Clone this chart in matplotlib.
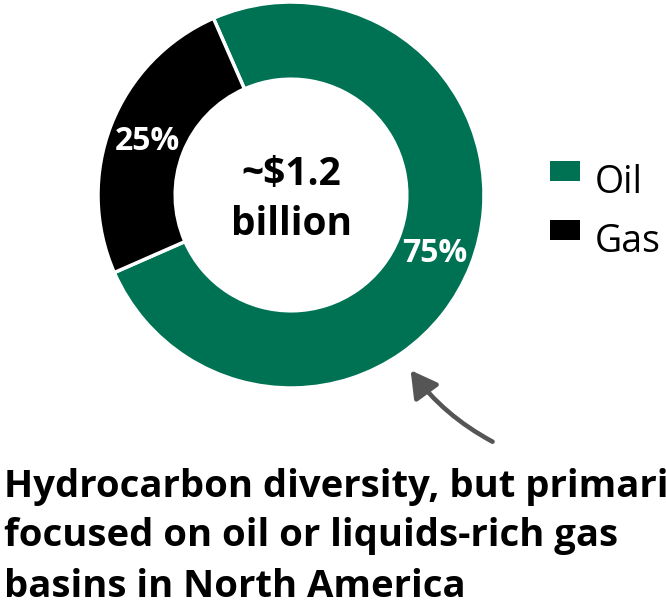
import matplotlib
matplotlib.use("Agg")
import matplotlib.pyplot as plt
from matplotlib.patches import Patch, Rectangle, FancyArrowPatch
from matplotlib.legend_handler import HandlerPatch

# revenue split by hydrocarbon type
categories = ["Oil", "Gas"]
shares = [75, 25]
colors = ["#007254", "#000000"]
center_lines = ["~\\$1.2", "billion"]
caption_lines = ["Hydrocarbon diversity, but primarily",
                 "focused on oil or liquids-rich gas",
                 "basins in North America"]

FONT = "Open Sans"
W, H = 666, 603
fig = plt.figure(figsize=(W / 100, H / 100), dpi=100)

# donut: centre (291, 195) px, radius 193 px
cx, cy, r = 291, 195, 193
ax = fig.add_axes([(cx - r) / W, (H - cy - r) / H, 2 * r / W, 2 * r / H])
wedges, texts, autotexts = ax.pie(
    shares, colors=colors, startangle=203.7, counterclock=True, radius=1.0,
    wedgeprops=dict(width=0.4, edgecolor="white", linewidth=2.5),
    autopct=lambda p: f"{p:.0f}%", pctdistance=0.8,
    textprops=dict(color="white", fontsize=23, fontweight="bold", family=FONT),
)
for t in autotexts:
    t.set_va("baseline")
    x, y = t.get_position()
    t.set_position((x, y - 0.055))
ax.set_xlim(-1, 1)
ax.set_ylim(-1, 1)
ax.set_aspect("equal")

# total in the hole, one line per text (baselines at 185 px and 235 px)
for line, ypix in zip(center_lines, [185, 235]):
    ax.text(0, (cy - ypix) / r, line, ha="center", va="baseline", fontsize=28,
            fontweight="bold", family=FONT)


# legend swatch sits above the text baseline
def swatch(legend, orig_handle, xdescent, ydescent, width, height, fontsize):
    return Rectangle((-xdescent, 0.32 * fontsize), width, 0.53 * fontsize)


handles = [Patch(facecolor=c, edgecolor="none") for c in colors]
fig.legend(handles, categories, loc="upper left",
           bbox_to_anchor=(550 / W, 1 - 164 / H), frameon=False,
           prop=dict(family=FONT, size=27), handlelength=0.8,
           handleheight=0.7, handletextpad=0.4, labelspacing=0.55,
           borderpad=0, borderaxespad=0,
           handler_map={Patch: HandlerPatch(patch_func=swatch)})

# curved pointer towards the oil slice
arrow = FancyArrowPatch((495 / W, 1 - 443 / H), (409 / W, 1 - 368 / H),
                        transform=fig.transFigure, connectionstyle="arc3,rad=-0.12",
                        arrowstyle="-|>,head_length=0.8,head_width=0.45",
                        mutation_scale=20, color="#555555", linewidth=3.3)
fig.add_artist(arrow)

for line, ypix in zip(caption_lines, [497, 546, 597]):
    fig.text(4 / W, 1 - ypix / H, line, ha="left", va="baseline", fontsize=27.5,
             fontweight="bold", family=FONT)

fig.savefig("out.png", dpi=100)
